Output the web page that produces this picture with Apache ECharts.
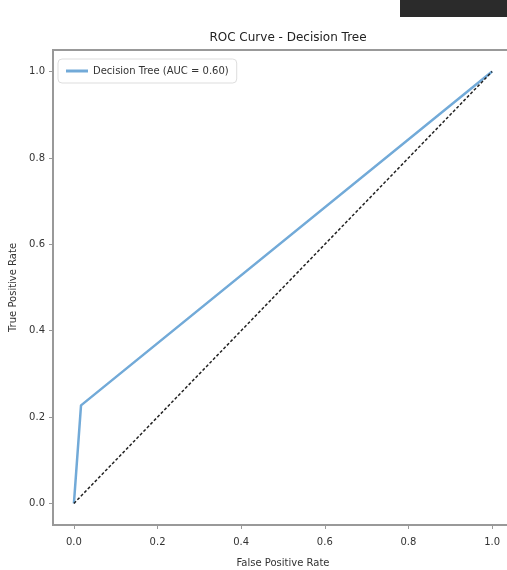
<!DOCTYPE html>
<html>
<head>
<meta charset="utf-8">
<script src="https://cdn.jsdelivr.net/npm/echarts@6/dist/echarts.min.js"></script>
<style>html,body{margin:0;padding:0;background:#fff}#chart{width:507px;height:570px}</style>
</head>
<body>
<div id="chart"></div>
<script>
// ROC points
var fpr = [0.0, 0.017, 1.0]
var tpr = [0.0, 0.227, 1.0]
var chanceX = [0.0, 1.0]
var chanceY = [0.0, 1.0]
var tickValues = [0.0, 0.2, 0.4, 0.6, 0.8, 1.0]
var seriesName = 'Decision Tree (AUC = 0.60)'

function pairs(xs, ys) {
    return xs.map(function (x, i) { return [x, ys[i]] })
}

var axisText = { color: '#333', fontSize: 10, fontFamily: 'DejaVu Sans' }

function makeAxis(name, gap, labelMargin) {
    return {
        type: 'value',
        min: -0.05,
        max: 1.05,
        name: name,
        nameLocation: 'middle',
        nameGap: gap,
        nameMoveOverlap: false,
        nameTextStyle: axisText,
        axisLine: { show: true, onZero: false, lineStyle: { color: '#999', width: 2 } },
        axisTick: { show: true, length: 4, lineStyle: { color: '#999' }, customValues: tickValues },
        axisLabel: Object.assign({
            customValues: tickValues,
            margin: labelMargin,
            formatter: function (v) { return v.toFixed(1) }
        }, axisText),
        splitLine: { show: false }
    }
}

var option = {
    animation: false,
    title: {
        text: 'ROC Curve - Decision Tree',
        left: 283,
        textAlign: 'center',
        top: 27,
        textStyle: { color: '#222', fontSize: 12, fontWeight: 'normal', fontFamily: 'DejaVu Sans' }
    },
    legend: {
        left: 58,
        top: 59,
        padding: [7, 8],
        itemWidth: 22,
        itemHeight: 3,
        icon: 'rect',
        borderColor: '#ddd',
        borderWidth: 1,
        borderRadius: 4,
        textStyle: { color: '#333', fontSize: 10, fontFamily: 'DejaVu Sans' },
        data: [seriesName]
    },
    grid: {
        left: 53,
        top: 50,
        width: 460,
        height: 475,
        outerBoundsMode: 'none',
        containLabel: false,
        show: true,
        borderColor: '#999',
        borderWidth: 2
    },
    xAxis: makeAxis('False Positive Rate', 33, 12),
    yAxis: makeAxis('True Positive Rate', 35, 8),
    series: [
        {
            name: seriesName,
            type: 'line',
            data: pairs(fpr, tpr),
            symbol: 'none',
            lineStyle: { color: '#72aad8', width: 2.5 },
            itemStyle: { color: '#72aad8' }
        },
        {
            name: 'chance',
            type: 'line',
            data: pairs(chanceX, chanceY),
            symbol: 'none',
            lineStyle: { color: '#222', width: 1.5, type: [3, 2] }
        }
    ],
    graphic: [
        { type: 'rect', shape: { x: 400, y: 0, width: 107, height: 17 }, style: { fill: '#2b2b2b' } }
    ]
}

var chart = echarts.init(document.getElementById('chart'))
chart.setOption(option)
</script>
</body>
</html>
